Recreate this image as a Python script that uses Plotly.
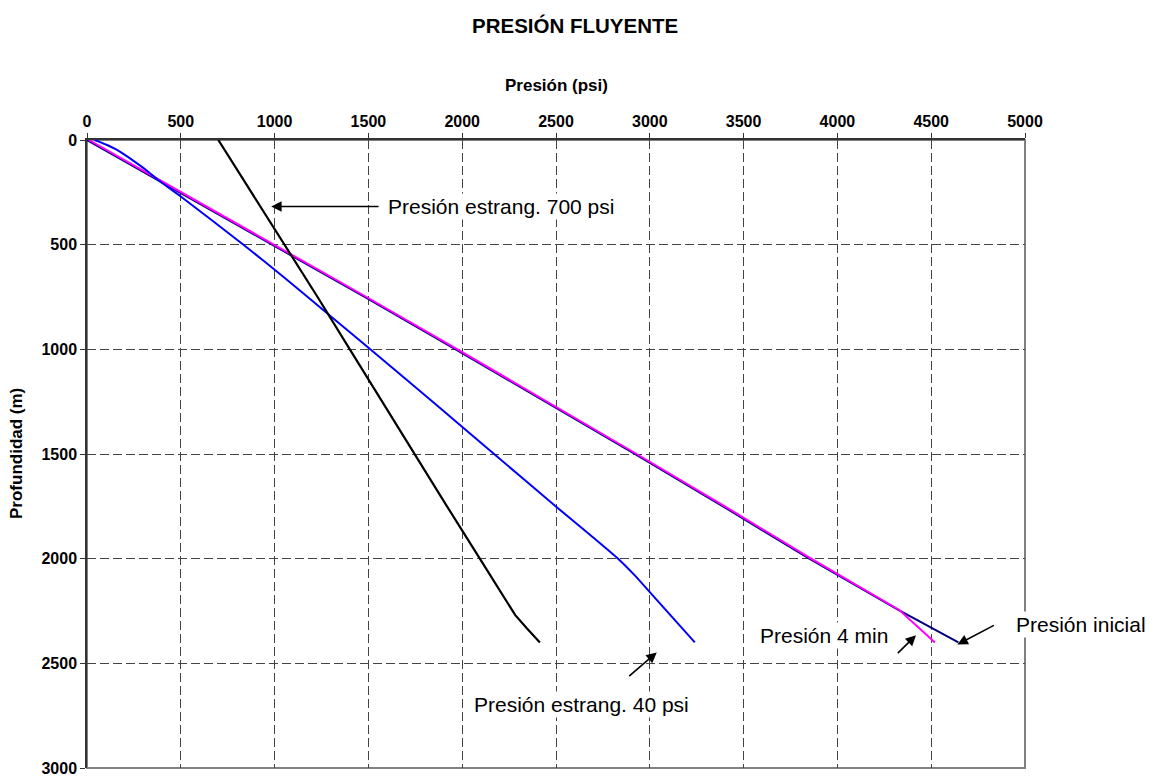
import plotly.graph_objects as go

# ---- data (psi vs depth m) ----
depth_700 = [0, 250, 500, 750, 1000, 1250, 1500, 1750, 2000, 2270, 2330, 2400]
psi_700 = [700, 877, 1054, 1229, 1401, 1573, 1745, 1919, 2094, 2283, 2342, 2414]

depth_40 = [0, 10, 25, 45, 70, 100, 140, 198, 270, 500, 660, 850, 1000, 1280, 1500, 1760, 1900, 2000, 2080, 2160, 2400]
psi_40 = [40, 70, 110, 155, 200, 248, 310, 390, 500, 834, 1056, 1310, 1510, 1882, 2170, 2512, 2700, 2831, 2920, 3000, 3240]

depth_ini = [0, 250, 500, 750, 1000, 1250, 1500, 1750, 2000, 2245, 2400]
psi_ini = [0, 495, 990, 1480, 1965, 2445, 2920, 3390, 3850, 4325, 4645]

depth_4min = [0, 250, 500, 750, 1000, 1250, 1500, 1750, 2000, 2245, 2400]
psi_4min = [10, 505, 1000, 1490, 1975, 2455, 2930, 3400, 3860, 4330, 4520]

x_ticks = [0, 500, 1000, 1500, 2000, 2500, 3000, 3500, 4000, 4500, 5000]
y_ticks = [0, 500, 1000, 1500, 2000, 2500, 3000]

FONT = "Liberation Sans, Arial, sans-serif"

fig = go.Figure()
fig.add_trace(go.Scatter(x=psi_ini, y=depth_ini, mode="lines",
                         line=dict(color="#000080", width=2), name="Presión inicial"))
fig.add_trace(go.Scatter(x=psi_4min, y=depth_4min, mode="lines",
                         line=dict(color="#FF00FF", width=2), name="Presión 4 min"))
fig.add_trace(go.Scatter(x=psi_40, y=depth_40, mode="lines", line_shape="spline",
                         line=dict(color="#0000FF", width=2, smoothing=0.5), name="Presión estrang. 40 psi"))
fig.add_trace(go.Scatter(x=psi_700, y=depth_700, mode="lines",
                         line=dict(color="#000000", width=2.2), name="Presión estrang. 700 psi"))

axis_common = dict(
    showgrid=True, gridcolor="#444444", gridwidth=1, griddash="9px,4px",
    zeroline=False, showline=True, linecolor="#333333", linewidth=1.5,
    ticks="outside", ticklen=5, tickwidth=1.2, tickcolor="#333333",
    tickfont=dict(family=FONT, size=16, color="black", weight="bold"),
    automargin=False,
)

# plot area at x 87..1025, y 140..768 (page body margin removed below)
PL, PT = 87, 140
PW, PH = 938, 628
W, H = 1160, 779

fig.update_layout(
    width=W, height=H,
    margin=dict(l=PL, r=W - PL - PW, t=PT, b=H - PT - PH),
    paper_bgcolor="white", plot_bgcolor="white",
    showlegend=False, hovermode=False,
    font=dict(family=FONT, color="black"),
    xaxis=dict(range=[0, 5000], side="top", tickvals=x_ticks, **axis_common),
    yaxis=dict(range=[3000, 0], tickvals=y_ticks, **axis_common),
)

# plot area border (gray)
fig.add_shape(type="rect", xref="paper", yref="paper", x0=0, y0=0, x1=1, y1=1,
              line=dict(color="#808080", width=2), layer="between")

# titles (pixel targets converted to paper coords)
def px(xp):
    return (xp - PL) / PW

def py(yp):
    return 1 - (yp - PT) / PH

fig.add_annotation(text="<b>PRESIÓN FLUYENTE</b>", xref="paper", yref="paper",
                   x=px(574.5), y=py(26), xanchor="center", yanchor="middle",
                   showarrow=False, font=dict(family=FONT, size=20.5, color="black"))
fig.add_annotation(text="<b>Presión (psi)</b>", xref="paper", yref="paper",
                   x=px(556.5), y=py(86), xanchor="center", yanchor="middle",
                   showarrow=False, font=dict(family=FONT, size=17, color="black"))
fig.add_annotation(text="<b>Profundidad (m)</b>", xref="paper", yref="paper",
                   x=px(16), y=py(454), xanchor="center", yanchor="middle", textangle=-90,
                   showarrow=False, font=dict(family=FONT, size=17, color="black"))

# arrows
arrows = [
    (982, 318, 1562, 318),
    (3037, 2448, 2882, 2567),
    (4419, 2366, 4314, 2458),
    (4640, 2410, 4842, 2315),
]
for hx, hy, tx, ty in arrows:
    fig.add_annotation(x=hx, y=hy, ax=tx, ay=ty, xref="x", yref="y", axref="x", ayref="y",
                       text="", showarrow=True, arrowhead=2, arrowsize=1.3, arrowwidth=1.6,
                       arrowcolor="black")

# labels
labels = [
    ("Presión estrang. 700 psi", 1594, 318, "left"),
    ("Presión estrang. 40 psi", 2637, 2697, "center"),
    ("Presión 4 min", 3931, 2367, "center"),
    ("Presión inicial", 4943, 2315, "left"),
]
for txt, lx, ly, anc in labels:
    fig.add_annotation(x=lx, y=ly, xref="x", yref="y", text=txt, showarrow=False,
                       xanchor=anc, yanchor="middle", bgcolor="white",
                       font=dict(family=FONT, size=21, color="black"))

fig.write_html("out.html", config={"displayModeBar": False},
               post_script="document.body.style.margin='0';document.body.style.overflow='hidden';")
